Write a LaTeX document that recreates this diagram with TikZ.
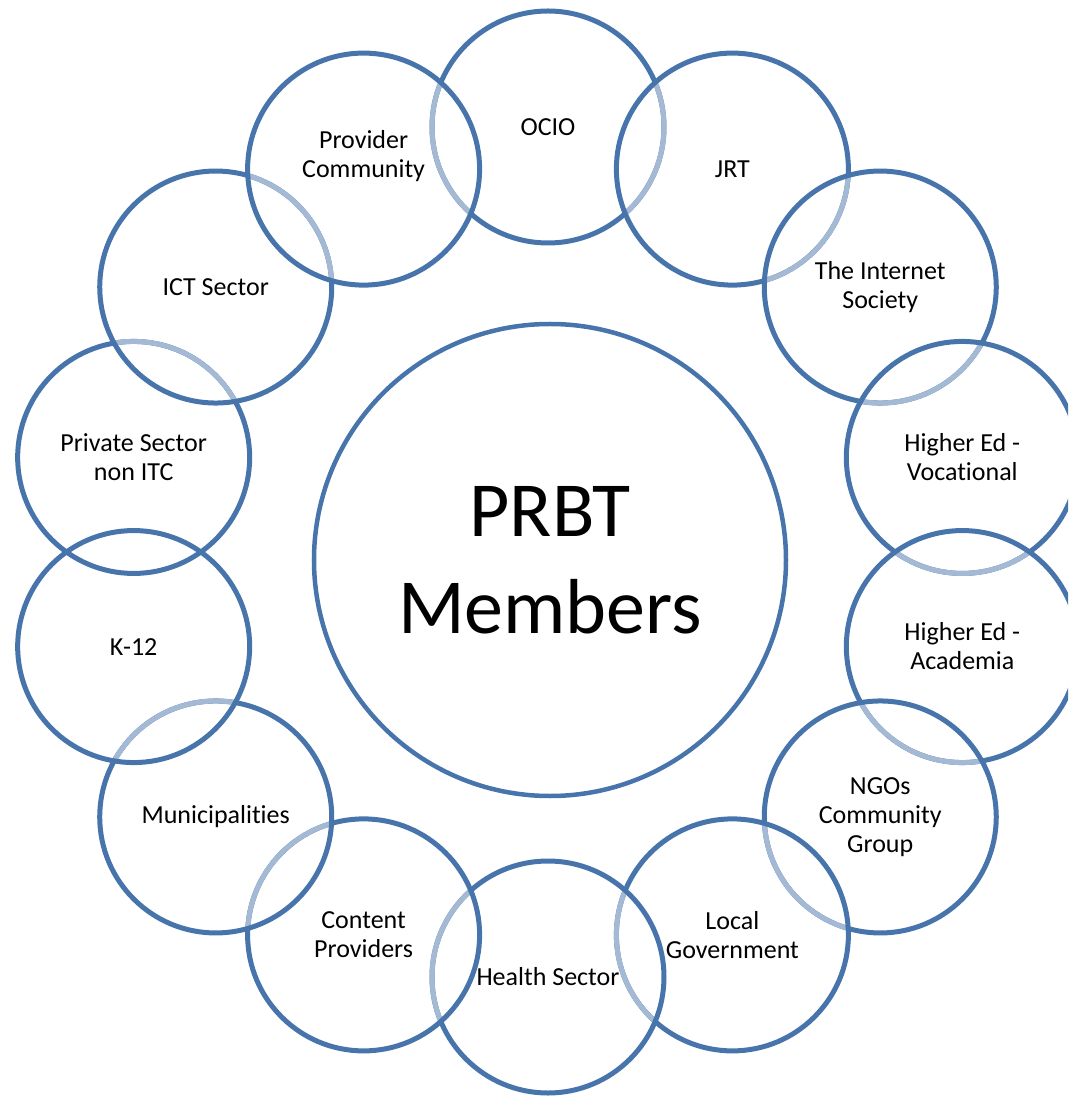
\documentclass[tikz,border=0pt]{standalone}
\usepackage{fontspec}
\setmainfont{Carlito}[Ligatures=NoCommon]
\definecolor{dk}{RGB}{72,116,172}
\definecolor{lt}{RGB}{164,185,212}
\tikzset{
  ringc/.style={circle, draw=dk, line width=5pt, minimum size=232pt, inner sep=0pt},
  bigc/.style={circle, draw=dk, line width=4.5pt, minimum size=472pt, inner sep=0pt},
  lbl/.style={align=center, font=\fontsize{26pt}{29pt}\selectfont, inner sep=0pt},
  biglbl/.style={align=center, font=\fontsize{78pt}{97pt}\selectfont, inner sep=0pt},
}
\begin{document}
\begin{tikzpicture}[x=1pt,y=1pt]
\useasboundingbox (-548,-545) rectangle (520,552);
\clip (-548,-545) rectangle (520,552);
% central circle
\node[bigc] (ctr) at (2,-8) {};
% ring circles
\foreach \i in {0,...,13} {
  \node[ringc] (c\i) at ({90-\i*360/14}:425) {};
}
% light arcs: circle a inside circle b
\foreach \a/\b in {0/1,1/2,2/3,3/4,4/5,5/6,6/7,7/8,8/9,9/10,11/12,12/13,0/13} {
  \begin{scope}
    \clip (c\b.center) circle[radius=113.4];
    \draw[lt, line width=5pt] (c\a.center) circle[radius=116];
  \end{scope}
}
% labels
\node[biglbl] (tctr) at (ctr.center) {PRBT\\Members};
\node[lbl] (t0) at (c0.center) {OCIO};
\node[lbl] (t1) at (c1.center) {JRT};
\node[lbl] (t2) at (c2.center) {The Internet\\Society};
\node[lbl] (t3) at (c3.center) {Higher Ed -\\Vocational};
\node[lbl] (t4) at (c4.center) {Higher Ed -\\Academia};
\node[lbl] (t5) at (c5.center) {NGOs\\Community\\Group};
\node[lbl] (t6) at (c6.center) {Local\\Government};
\node[lbl] (t7) at (c7.center) {Health Sector};
\node[lbl] (t8) at (c8.center) {Content\\Providers};
\node[lbl] (t9) at (c9.center) {Municipalities};
\node[lbl] (t10) at (c10.center) {K-12};
\node[lbl] (t11) at (c11.center) {Private Sector\\non ITC};
\node[lbl] (t12) at (c12.center) {ICT Sector};
\node[lbl] (t13) at ([yshift=13pt]c13.center) {Provider\\Community};
\end{tikzpicture}
\end{document}
